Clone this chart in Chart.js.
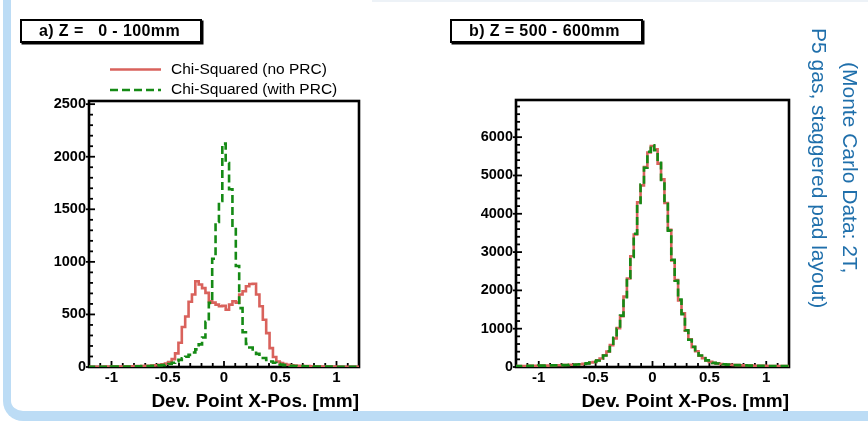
<!DOCTYPE html>
<html>
<head>
<meta charset="utf-8">
<script src="https://cdn.jsdelivr.net/npm/chart.js@4.4.1/dist/chart.umd.min.js"></script>
<style>
  html, body { margin: 0; padding: 0; background: #fff; }
  body {
    width: 868px; height: 422px; position: relative; overflow: hidden;
    font-family: "Liberation Sans", Arial, Helvetica, sans-serif;
  }
  #frame {
    position: absolute; left: 3px; top: -40px; width: 920px; height: 461px;
    box-sizing: border-box; border-style: solid; border-color: #bcdcf5;
    border-width: 0 0 10px 8px; border-radius: 0 0 0 20px;
  }
  #topstrip { position: absolute; left: 372px; top: 0; width: 500px; height: 2px; background: #edf2f7; }
  .panel { position: absolute; top: 0; width: 380px; height: 422px; }
  #panelA { left: 0; }
  #panelB { left: 430px; }
  .tag {
    position: absolute; top: 19px; height: 24px; box-sizing: border-box;
    border: 2px solid #000; box-shadow: 1.5px 1.5px 0 #000; background: #fff;
    font-weight: bold; font-size: 16px; line-height: 20px; white-space: pre;
    padding-left: 17px; letter-spacing: 0.4px;
  }
  #tagA { left: 20px; width: 182px; }
  #tagB { left: 450px; width: 193px; }
  #note {
    position: absolute; left: 802px; top: 18px; width: 64px; height: 300px;
    writing-mode: vertical-rl; text-align: center;
    font-size: 21px; line-height: 31px; color: #1f6fab;
  }
</style>
</head>
<body>
<div id="frame"></div>
<div id="topstrip"></div>
<div class="panel" id="panelA"><canvas id="chartA" width="380" height="422"></canvas></div>
<div class="panel" id="panelB"><canvas id="chartB" width="380" height="422"></canvas></div>
<div class="tag" id="tagA">a) Z =   0 - 100mm</div>
<div class="tag" id="tagB">b) Z = 500 - 600mm</div>
<div id="note">(Monte Carlo Data: 2T,<br>P5 gas, staggered pad layout)</div>

<script>
// Histogram binning: 81 bins of 0.03 mm, centred on -1.20 ... +1.20 mm
const binLow = -1.215;
const binWidth = 0.03;

const seriesNames = ['Chi-Squared (no PRC)', 'Chi-Squared (with PRC)'];
const xTitle = 'Dev. Point X-Pos. [mm]';

// a) Z = 0 - 100 mm
const countsNoPrcA = [
  2, 3, 2, 3, 3, 4, 3, 4, 4, 5, 5, 6, 6, 7, 8, 9, 10, 11, 12, 14,
  16, 20, 26, 34, 46, 75, 130, 230, 380, 480, 620, 690, 815, 785, 750, 705, 625, 612, 593, 578,
  583,
  545, 593, 625, 612, 689, 721, 768, 790, 792, 689, 578, 450, 322, 180, 95, 52, 38, 29, 22, 17,
  14, 12, 10, 9, 8, 7, 6, 6, 5, 5, 4, 4, 4, 3, 3, 3, 2, 3, 2, 2
];
const countsWithPrcA = [
  2, 2, 3, 2, 3, 3, 3, 4, 4, 4, 5, 5, 5, 6, 6, 7, 8, 9, 10, 11,
  13, 15, 18, 22, 29, 40, 52, 68, 83, 98, 115, 138, 168, 215, 280, 430, 610, 1030, 1380, 1580,
  2125,
  1940, 1690, 1330, 960, 560, 330, 220, 185, 152, 125, 102, 86, 68, 52, 40, 30, 23, 18, 14, 12,
  10, 9, 8, 7, 6, 6, 5, 5, 5, 4, 4, 4, 3, 3, 3, 3, 2, 3, 2, 2
];

// b) Z = 500 - 600 mm
const countsNoPrcB = [
  25, 25, 28, 27, 31, 30, 34, 34, 37, 37, 41, 41, 45, 46, 51, 52, 57, 59, 66, 71,
  84, 93, 118, 132, 174, 220, 306, 402, 570, 748, 1015, 1325, 1840, 2310, 2890, 3460, 4300, 4740, 5220, 5600,
  5770,
  5680, 5310, 4900, 4280, 3580, 2780, 2270, 1740, 1400, 950, 720, 520, 410, 295, 232, 168, 135, 106, 94, 79,
  71, 62, 58, 51, 49, 44, 43, 38, 38, 34, 34, 30, 31, 27, 28, 25, 26, 23, 24, 21
];
const countsWithPrcB = [
  24, 26, 27, 28, 30, 31, 33, 35, 36, 38, 40, 42, 44, 47, 50, 53, 56, 60, 65, 72,
  82, 95, 115, 135, 170, 225, 300, 410, 560, 760, 1000, 1340, 1820, 2330, 2870, 3480, 4280, 4760, 5200, 5620,
  5790,
  5660, 5330, 4880, 4300, 3560, 2800, 2250, 1760, 1380, 960, 710, 530, 400, 300, 228, 172, 132, 108, 92, 80,
  70, 63, 57, 52, 48, 45, 42, 39, 37, 35, 33, 31, 30, 28, 27, 26, 25, 24, 23, 22
];

const xTickValues = [-1, -0.5, 0, 0.5, 1];
const yTickValuesA = [0, 500, 1000, 1500, 2000, 2500];
const yTickValuesB = [0, 1000, 2000, 3000, 4000, 5000, 6000];

const FONT = '"Liberation Sans", Arial, Helvetica, sans-serif';
Chart.defaults.font.family = FONT;
Chart.defaults.color = '#000';

// Step outline: one point per bin lower edge plus the final upper edge;
// each count holds from its lower edge to the next edge ('before' stepping)
function histPoints(counts) {
  const pts = counts.map((c, i) => ({ x: binLow + i * binWidth, y: c }));
  pts.push({ x: binLow + counts.length * binWidth, y: counts[counts.length - 1] });
  return pts;
}

const RED = '#d9625c';
const GREEN = '#158a15';

function makeDatasets(noPrc, withPrc) {
  return [
    { label: seriesNames[0], data: histPoints(noPrc), borderColor: RED, borderWidth: 2.6,
      stepped: 'before', pointRadius: 0, fill: false, order: 2 },
    { label: seriesNames[1], data: histPoints(withPrc), borderColor: GREEN, borderWidth: 2.6,
      borderDash: [8, 4], stepped: 'before', pointRadius: 0, fill: false, order: 1 }
  ];
}

// Box frame plus inward-pointing minor/major ticks
const frameTicks = {
  id: 'frameTicks',
  beforeDatasetsDraw(chart, args, o) {
    const { ctx, chartArea: a, scales: { x, y } } = chart;
    ctx.save();
    ctx.strokeStyle = '#000';
    ctx.lineWidth = 1.8;
    const ny = Math.floor(y.max / o.yMinor);
    for (let i = 0; i <= ny; i++) {
      const v = i * o.yMinor;
      const py = y.getPixelForValue(v);
      const major = v % o.yMajor === 0;
      ctx.beginPath();
      ctx.moveTo(a.left - (major ? 3 : 0), py);
      ctx.lineTo(a.left + (major ? 6 : 4), py);
      ctx.stroke();
    }
    const i0 = Math.ceil(x.min / o.xMinor - 1e-9);
    const i1 = Math.floor(x.max / o.xMinor + 1e-9);
    for (let i = i0; i <= i1; i++) {
      const px = x.getPixelForValue(i * o.xMinor);
      const major = i % o.xMajorEvery === 0;
      ctx.beginPath();
      ctx.moveTo(px, a.bottom);
      ctx.lineTo(px, a.bottom - (major ? 6 : 4));
      ctx.stroke();
    }
    ctx.lineWidth = 2.6;
    ctx.strokeRect(a.left, a.top, a.right - a.left, a.bottom - a.top);
    ctx.restore();
  }
};

// Line-sample legend drawn from the dataset styles
const lineLegend = {
  id: 'lineLegend',
  afterDraw(chart, args, o) {
    if (!o.show) return;
    const { ctx } = chart;
    ctx.save();
    chart.data.datasets.forEach((ds, i) => {
      const yy = o.y0 + i * o.dy;
      ctx.beginPath();
      ctx.setLineDash(ds.borderDash || []);
      ctx.strokeStyle = ds.borderColor;
      ctx.lineWidth = ds.borderWidth;
      ctx.moveTo(o.x0, yy);
      ctx.lineTo(o.x1, yy);
      ctx.stroke();
      ctx.setLineDash([]);
      ctx.fillStyle = '#000';
      ctx.font = o.font;
      ctx.textBaseline = 'middle';
      ctx.textAlign = 'left';
      ctx.fillText(ds.label, o.textX, yy);
    });
    ctx.restore();
  }
};

function makeChart(id, noPrc, withPrc, yMax, yTicks, yStep, yMinor, padTop, axisWidth, legendOpts) {
  return new Chart(document.getElementById(id), {
    type: 'line',
    data: { datasets: makeDatasets(noPrc, withPrc) },
    options: {
      responsive: false,
      animation: false,
      events: [],
      layout: { padding: { top: padTop, right: 21, left: 0, bottom: 0 } },
      plugins: {
        legend: { display: false },
        tooltip: { enabled: false },
        frameTicks: { yMinor: yMinor, yMajor: yStep, xMinor: 0.1, xMajorEvery: 5 },
        lineLegend: legendOpts
      },
      scales: {
        x: {
          type: 'linear', min: -1.2, max: 1.2,
          afterFit(s) { s.height = 55; },
          afterBuildTicks(s) { s.ticks = xTickValues.map(v => ({ value: v })); },
          grid: { display: false, drawTicks: false },
          border: { display: false },
          ticks: {
            padding: 2, maxRotation: 0, autoSkip: false,
            font: { size: 15, weight: 'bold' },
            callback: v => String(Math.round(v * 10) / 10)
          },
          title: {
            display: true, text: xTitle, align: 'end',
            font: { size: 19, weight: 'bold' },
            padding: { top: 0, bottom: 9 }
          }
        },
        y: {
          type: 'linear', min: 0, max: yMax,
          afterFit(s) { s.width = axisWidth; },
          afterBuildTicks(s) { s.ticks = yTicks.map(v => ({ value: v })); },
          grid: { display: false, drawTicks: false },
          border: { display: false },
          ticks: {
            padding: 3, autoSkip: false,
            font: { size: 14.5, weight: 'bold' },
            callback: v => String(v)
          }
        }
      }
    },
    plugins: [frameTicks, lineLegend]
  });
}

makeChart('chartA', countsNoPrcA, countsWithPrcA, 2530, yTickValuesA, 500, 100, 101, 89, {
  show: true, x0: 110, x1: 161, textX: 171, y0: 69.5, dy: 20.5,
  font: '15.5px ' + FONT
});
makeChart('chartB', countsNoPrcB, countsWithPrcB, 6970, yTickValuesB, 1000, 200, 100, 86, { show: false });
</script>
</body>
</html>
